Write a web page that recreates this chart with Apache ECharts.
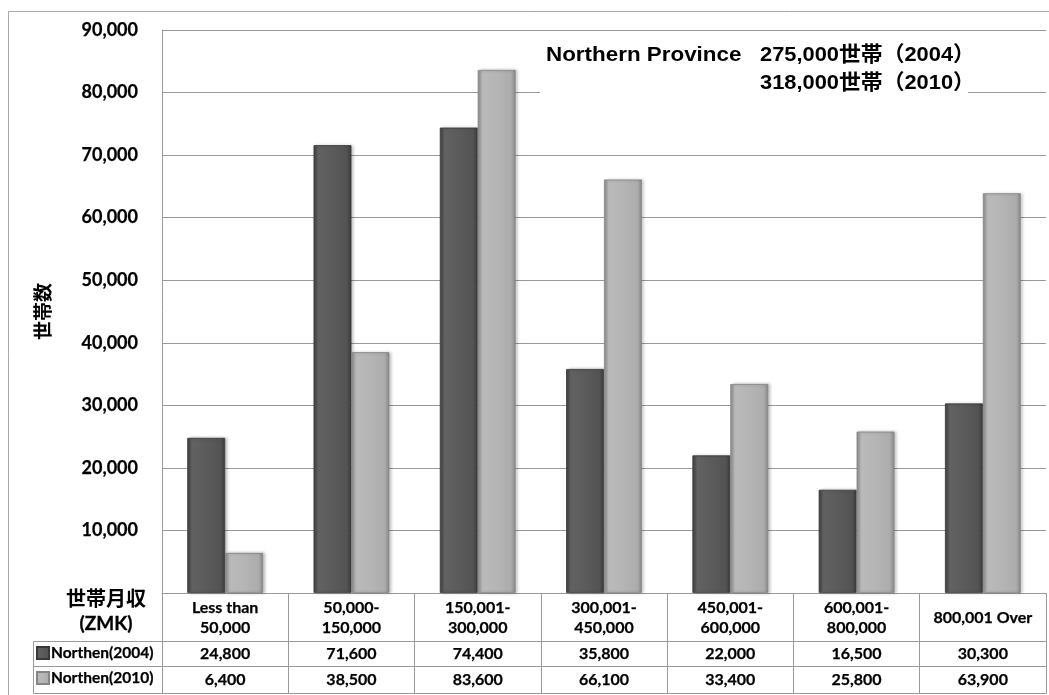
<!DOCTYPE html>
<html>
<head>
<meta charset="utf-8">
<title>Northern Province 世帯月収別世帯数</title>
<script src="https://cdn.jsdelivr.net/npm/echarts@6/dist/echarts.min.js"></script>
<style>
  html, body { margin: 0; padding: 0; background: #fff; }
  #chart { width: 1049px; height: 695px; }
</style>
</head>
<body>
<div id="chart"></div>
<script>
// Household monthly income brackets (ZMK)
const categories = [
  'Less than\n50,000',
  '50,000-\n150,000',
  '150,001-\n300,000',
  '300,001-\n450,000',
  '450,001-\n600,000',
  '600,001-\n800,000',
  '800,001 Over'
];
// Number of households per bracket
const households2004 = [24800, 71600, 74400, 35800, 22000, 16500, 30300];
const households2010 = [6400, 38500, 83600, 66100, 33400, 25800, 63900];
const seriesNames = ['Northen(2004)', 'Northen(2010)'];
const yTicks = { min: 0, max: 90000, step: 10000 };

const fmt = v => v.toLocaleString('en-US');

const LATIN = 'Lato, "Noto Sans CJK JP", sans-serif';
const CJK = '"Noto Sans CJK JP", sans-serif';
const HEAD = '"Liberation Sans", Arial, "Noto Sans CJK JP", sans-serif';
const LINE = '#9a9a9a';

function barFill(stops) {
  return new echarts.graphic.LinearGradient(0, 0, 1, 0,
    stops.map(s => ({ offset: s[0], color: s[1] })));
}
const darkFill = barFill([[0, '#3e3e3e'], [0.12, '#626262'], [0.5, '#5b5b5b'], [0.88, '#535353'], [1, '#3a3a3a']]);
const lightFill = barFill([[0, '#8c8c8c'], [0.12, '#bababa'], [0.5, '#b5b5b5'], [0.88, '#acacac'], [1, '#888888']]);

const gridBottom = 593;
const rowTop1 = 641.5, rowTop2 = 666.5, rowBottom = 693.5;

const tableAxis = (labels, offset, height, margin) => ({
  type: 'category',
  gridIndex: 0,
  position: 'bottom',
  offset: offset,
  data: labels,
  axisLine: { show: true, lineStyle: { color: LINE, width: 1 } },
  axisTick: { show: true, length: height, inside: false, lineStyle: { color: LINE } },
  axisLabel: {
    show: true, interval: 0, margin: margin, verticalAlign: 'middle',
    fontFamily: LATIN, fontWeight: 'bold', fontSize: 16, color: '#000', lineHeight: 20,
    textBorderColor: '#000', textBorderWidth: 0.25
  },
  splitLine: { show: false }
});

const chart = echarts.init(document.getElementById('chart'), null, { renderer: 'canvas' });

chart.setOption({
  animation: false,
  backgroundColor: '#fff',
  grid: { left: 162, right: 3, top: 30, bottom: 695 - gridBottom, containLabel: false },
  legend: {
    orient: 'vertical',
    left: 36, top: 645,
    padding: 0,
    itemGap: 9,
    itemWidth: 12, itemHeight: 12,
    icon: 'rect',
    selectedMode: false,
    textStyle: { fontFamily: LATIN, fontWeight: 'bold', fontSize: 15.5, color: '#000', lineHeight: 16,
      padding: [0, 0, 0, -3], textBorderColor: '#000', textBorderWidth: 0.25 },
    data: seriesNames
  },
  xAxis: [
    tableAxis(categories, 0, rowTop1 - gridBottom, 25),
    tableAxis(households2004.map(fmt), rowTop1 - gridBottom, rowTop2 - rowTop1, 12.5),
    tableAxis(households2010.map(fmt), rowTop2 - gridBottom, rowBottom - rowTop2, 13.5),
    {
      type: 'category', gridIndex: 0, position: 'bottom', offset: rowBottom - gridBottom,
      data: categories,
      axisLine: { show: true, lineStyle: { color: LINE } },
      axisTick: { show: false }, axisLabel: { show: false }
    }
  ],
  yAxis: {
    type: 'value',
    min: yTicks.min, max: yTicks.max, interval: yTicks.step,
    name: '世帯数',
    nameLocation: 'middle',
    nameRotate: 90,
    nameGap: 110,
    nameTextStyle: { fontFamily: CJK, fontWeight: 'bold', fontSize: 19, color: '#000' },
    axisLine: { show: true, lineStyle: { color: LINE } },
    axisTick: { show: false },
    axisLabel: {
      margin: 24,
      fontFamily: LATIN, fontWeight: 'bold', fontSize: 18, color: '#000',
      textBorderColor: '#000', textBorderWidth: 0.25,
      formatter: v => (v === 0 ? '' : fmt(v))
    },
    splitLine: { show: true, lineStyle: { color: '#999', width: 1 } }
  },
  series: [
    {
      name: seriesNames[0], type: 'bar', xAxisIndex: 0,
      data: households2004,
      barGap: '0%', barCategoryGap: '40%',
      itemStyle: { color: darkFill, borderColor: '#3a3a3a', borderWidth: 0.8,
        shadowColor: 'rgba(0,0,0,0.25)', shadowBlur: 3, shadowOffsetX: 2 }
    },
    {
      name: seriesNames[1], type: 'bar', xAxisIndex: 0,
      data: households2010,
      barGap: '0%', barCategoryGap: '40%',
      itemStyle: { color: lightFill, borderColor: '#858585', borderWidth: 0.8,
        shadowColor: 'rgba(0,0,0,0.25)', shadowBlur: 3, shadowOffsetX: 2 }
    }
  ],
  graphic: [
    // chart frame
    { type: 'rect', silent: true, z: -10,
      shape: { x: 8.5, y: 11.5, width: 1200, height: 900 },
      style: { fill: null, stroke: '#a8a8a8', lineWidth: 1 } },
    // row-header cells of the data table
    { type: 'polyline', silent: true,
      shape: { points: [[162, rowTop1], [33.5, rowTop1], [33.5, rowBottom], [162, rowBottom]] },
      style: { fill: null, stroke: LINE, lineWidth: 1 } },
    { type: 'line', silent: true,
      shape: { x1: 33.5, y1: rowTop2, x2: 162, y2: rowTop2 },
      style: { stroke: LINE, lineWidth: 1 } },
    // x-axis title
    { type: 'text', silent: true, x: 106, y: 598,
      style: { text: '世帯月収', fontFamily: CJK, fontWeight: 'bold', fontSize: 20, fill: '#000',
        align: 'center', verticalAlign: 'middle' } },
    { type: 'text', silent: true, x: 106, y: 624,
      style: { text: '(ZMK)', fontFamily: LATIN, fontWeight: 'bold', fontSize: 19, fill: '#000',
        align: 'center', verticalAlign: 'middle', stroke: '#000', lineWidth: 0.3 } },
    // province totals
    { type: 'rect', silent: true, z: 5,
      shape: { x: 540, y: 40, width: 428, height: 58 },
      style: { fill: '#fff' } },
    { type: 'text', silent: true, z: 6, x: 546, y: 55, scaleX: 1.12,
      style: { text: 'Northern Province', fontFamily: HEAD, fontWeight: 'bold', fontSize: 20, fill: '#000',
        align: 'left', verticalAlign: 'middle' } },
    { type: 'text', silent: true, z: 6, x: 760, y: 55, scaleX: 1.04,
      style: { text: '275,000世帯（2004）', fontFamily: HEAD, fontWeight: 'bold', fontSize: 21, fill: '#000',
        align: 'left', verticalAlign: 'middle' } },
    { type: 'text', silent: true, z: 6, x: 760, y: 83.5, scaleX: 1.04,
      style: { text: '318,000世帯（2010）', fontFamily: HEAD, fontWeight: 'bold', fontSize: 21, fill: '#000',
        align: 'left', verticalAlign: 'middle' } }
  ]
});
</script>
</body>
</html>
